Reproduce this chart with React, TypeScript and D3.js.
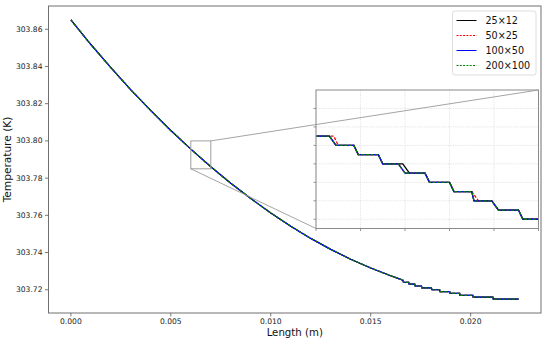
import React from "react";
import * as d3 from "d3";

// ---------- data ----------
const seriesNames = ["25×12", "50×25", "100×50", "200×100"];
const seriesColors = ["#000000", "#ff0000", "#0000ff", "#008000"];
const seriesDash = ["", "3,1.6", "", "3,1.6"];

const xTicks = [0, 0.005, 0.01, 0.015, 0.02];
const yTicks = [303.72, 303.74, 303.76, 303.78, 303.8, 303.82, 303.84, 303.86];

// main curve readings (Length m, Temperature K)
const mainX = [
  0.0, 0.001, 0.002, 0.003, 0.004, 0.005, 0.006, 0.007, 0.008, 0.009, 0.01,
  0.011, 0.012, 0.013, 0.014, 0.015, 0.016, 0.0165, 0.0166, 0.01662, 0.01664,
  0.0169, 0.01692, 0.0172, 0.01722, 0.01754, 0.01756, 0.01804, 0.01806,
  0.01845, 0.01847, 0.01895, 0.01897, 0.01945, 0.01947, 0.02011, 0.02013,
  0.02111, 0.02113, 0.0224,
];
const mainT = [
  303.865, 303.8518, 303.8394, 303.8274, 303.8163, 303.8056, 303.7956,
  303.7861, 303.7772, 303.769, 303.7613, 303.7541, 303.7476, 303.7417,
  303.7364, 303.7317, 303.7275, 303.7256, 303.725, 303.725, 303.724, 303.724,
  303.723, 303.723, 303.722, 303.722, 303.721, 303.721, 303.72, 303.72,
  303.719, 303.719, 303.718, 303.718, 303.717, 303.717, 303.716, 303.716,
  303.715, 303.715,
];

// inset (zoom window) readings
const insetXDomain = [0.006, 0.007];
const insetYDomain = [303.785, 303.8];
const insetXTicks = [0.006, 0.0062, 0.0064, 0.0066, 0.0068, 0.007];
const insetYTicks = [303.786, 303.788, 303.79, 303.792, 303.794, 303.796, 303.798];
const insetLevels = [303.795, 303.794, 303.793, 303.792, 303.791, 303.79, 303.789, 303.788, 303.787, 303.786];
const dropStart25 = [0.00606, 0.00617, 0.00628, 0.00639, 0.00649, 0.0066, 0.0067, 0.00679, 0.00691];
const dropEnd25 = [0.00609, 0.00619, 0.0063, 0.00642, 0.00651, 0.00662, 0.00671, 0.00682, 0.00693];
const dropStart50 = [0.00608, 0.00617, 0.00628, 0.00637, 0.00649, 0.0066, 0.0067, 0.00679, 0.00691];
const dropEnd50 = [0.0061, 0.00619, 0.0063, 0.0064, 0.00651, 0.00662, 0.00673, 0.00682, 0.00693];
const dropStart100 = [0.00606, 0.00617, 0.00628, 0.00637, 0.00649, 0.0066, 0.0067, 0.00679, 0.00691];
const dropEnd100 = [0.00609, 0.00619, 0.0063, 0.0064, 0.00651, 0.00662, 0.00671, 0.00682, 0.00693];
const dropStart200 = [0.00606, 0.00617, 0.00628, 0.00637, 0.00649, 0.0066, 0.0067, 0.00679, 0.00691];
const dropEnd200 = [0.00609, 0.00619, 0.0063, 0.0064, 0.00651, 0.00662, 0.00671, 0.00682, 0.00693];

const insetStarts = [dropStart25, dropStart50, dropStart100, dropStart200];
const insetEnds = [dropEnd25, dropEnd50, dropEnd100, dropEnd200];

// ---------- layout ----------
const W = 550;
const H = 340;
const plot = { left: 48.5, right: 541, top: 6, bottom: 313 };
const insetBox = { left: 316, right: 538.5, top: 90, bottom: 228.5 };
const FONT = "DejaVu Sans, sans-serif";

export default function App() {
  const xs = d3.scaleLinear().domain([-0.00112, 0.02352]).range([plot.left, plot.right]);
  const ys = d3.scaleLinear().domain([303.7075, 303.8725]).range([plot.bottom, plot.top]);

  const ix = d3.scaleLinear().domain(insetXDomain).range([insetBox.left, insetBox.right]);
  const iy = d3.scaleLinear().domain(insetYDomain).range([insetBox.bottom, insetBox.top]);

  const mainPts: [number, number][] = mainX.map((x, i) => [x, mainT[i]]);
  const mainLine = d3
    .line<[number, number]>()
    .x((d) => xs(d[0]))
    .y((d) => ys(d[1]));

  const insetLine = d3
    .line<[number, number]>()
    .x((d) => ix(d[0]))
    .y((d) => iy(d[1]));

  const insetSeries = insetStarts.map((starts, s) => {
    const ends = insetEnds[s];
    const pts: [number, number][] = [[insetXDomain[0] - 0.0001, insetLevels[0]]];
    starts.forEach((st, i) => {
      pts.push([st, insetLevels[i]]);
      pts.push([ends[i], insetLevels[i + 1]]);
    });
    pts.push([insetXDomain[1] + 0.0001, insetLevels[insetLevels.length - 1]]);
    return pts;
  });

  // zoom rectangle in main coordinates
  const bx0 = xs(insetXDomain[0]);
  const bx1 = xs(insetXDomain[1]);
  const by0 = ys(insetYDomain[1]);
  const by1 = ys(insetYDomain[0]);

  const legendX = 452.5;
  const legendY = 11;

  return (
    <svg
      width={W}
      height={H}
      style={{ position: "fixed", left: 0, top: 0, background: "#fff" }}
      fontFamily={FONT}
    >
      <rect x={0} y={0} width={W} height={H} fill="#fff" />
      <defs>
        <clipPath id="mainClip">
          <rect x={plot.left} y={plot.top} width={plot.right - plot.left} height={plot.bottom - plot.top} />
        </clipPath>
        <clipPath id="insetClip">
          <rect x={insetBox.left} y={insetBox.top} width={insetBox.right - insetBox.left} height={insetBox.bottom - insetBox.top} />
        </clipPath>
      </defs>

      {/* main series */}
      <g clipPath="url(#mainClip)">
        {seriesNames.map((n, s) => (
          <path
            key={n}
            d={mainLine(mainPts) || ""}
            fill="none"
            stroke={seriesColors[s]}
            strokeWidth={1.2}
            strokeDasharray={seriesDash[s] || undefined}
          />
        ))}
      </g>

      {/* zoom rectangle */}
      <rect x={bx0} y={by0} width={bx1 - bx0} height={by1 - by0} fill="none" stroke="#a0a0a0" strokeWidth={1} />

      {/* axes spines */}
      <rect
        x={plot.left}
        y={plot.top}
        width={plot.right - plot.left}
        height={plot.bottom - plot.top}
        fill="none"
        stroke="#707070"
        strokeWidth={1}
      />

      {/* x ticks */}
      {xTicks.map((t) => (
        <g key={t} transform={`translate(${xs(t)},0)`}>
          <line y1={plot.bottom} y2={plot.bottom + 3.5} stroke="#555" strokeWidth={0.8} />
          <text y={plot.bottom + 10.5} textAnchor="middle" fontSize={7.6} fill="#222">
            {d3.format(".3f")(t)}
          </text>
        </g>
      ))}
      {/* y ticks */}
      {yTicks.map((t) => (
        <g key={t} transform={`translate(0,${ys(t)})`}>
          <line x1={plot.left - 3.5} x2={plot.left} stroke="#555" strokeWidth={0.8} />
          <text x={plot.left - 6} dy="0.34em" textAnchor="end" fontSize={7.6} fill="#222">
            {d3.format(".2f")(t)}
          </text>
        </g>
      ))}

      <text x={(plot.left + plot.right) / 2} y={335.5} textAnchor="middle" fontSize={10.2} fill="#111">
        Length (m)
      </text>
      <text
        transform={`translate(11,${(plot.top + plot.bottom) / 2}) rotate(-90)`}
        textAnchor="middle"
        fontSize={10.6}
        fill="#111"
      >
        Temperature (K)
      </text>

      {/* inset */}
      <rect
        x={insetBox.left}
        y={insetBox.top}
        width={insetBox.right - insetBox.left}
        height={insetBox.bottom - insetBox.top}
        fill="#fff"
      />
      {insetXTicks.map((t) => (
        <g key={"ix" + t}>
          <line x1={ix(t)} x2={ix(t)} y1={insetBox.top} y2={insetBox.bottom} stroke="#d0d0d0" strokeWidth={0.6} strokeDasharray="1.2,1.2" />
          <line x1={ix(t)} x2={ix(t)} y1={insetBox.bottom} y2={insetBox.bottom + 2.5} stroke="#666" strokeWidth={0.7} />
        </g>
      ))}
      {insetYTicks.map((t) => (
        <g key={"iy" + t}>
          <line x1={insetBox.left} x2={insetBox.right} y1={iy(t)} y2={iy(t)} stroke="#d0d0d0" strokeWidth={0.6} strokeDasharray="1.2,1.2" />
          <line x1={insetBox.left - 2.5} x2={insetBox.left} y1={iy(t)} y2={iy(t)} stroke="#666" strokeWidth={0.7} />
        </g>
      ))}
      <g clipPath="url(#insetClip)">
        {insetSeries.map((pts, s) => (
          <path
            key={"is" + s}
            d={insetLine(pts) || ""}
            fill="none"
            stroke={seriesColors[s]}
            strokeWidth={1.3}
            strokeDasharray={seriesDash[s] || undefined}
          />
        ))}
      </g>
      <rect
        x={insetBox.left}
        y={insetBox.top}
        width={insetBox.right - insetBox.left}
        height={insetBox.bottom - insetBox.top}
        fill="none"
        stroke="#8a8a8a"
        strokeWidth={1}
      />

      {/* connectors */}
      <line x1={bx1} y1={by0} x2={insetBox.right} y2={insetBox.top} stroke="#9a9a9a" strokeWidth={0.9} />
      <line x1={bx0} y1={by1} x2={insetBox.left} y2={insetBox.bottom} stroke="#9a9a9a" strokeWidth={0.9} />

      {/* legend */}
      <g transform={`translate(${legendX},${legendY})`}>
        <rect x={0} y={0} width={83.5} height={64} rx={2.5} fill="#fff" fillOpacity={0.85} stroke="#d5d5d5" strokeWidth={0.8} />
        {seriesNames.map((n, s) => (
          <g key={"lg" + n} transform={`translate(0,${9.5 + s * 15})`}>
            <line
              x1={4}
              x2={24}
              y1={0}
              y2={0}
              stroke={seriesColors[s]}
              strokeWidth={1}
              strokeDasharray={seriesDash[s] ? "2,1.3" : undefined}
            />
            <text x={33} dy="0.35em" fontSize={9.6} fill="#111">
              {n}
            </text>
          </g>
        ))}
      </g>
    </svg>
  );
}
